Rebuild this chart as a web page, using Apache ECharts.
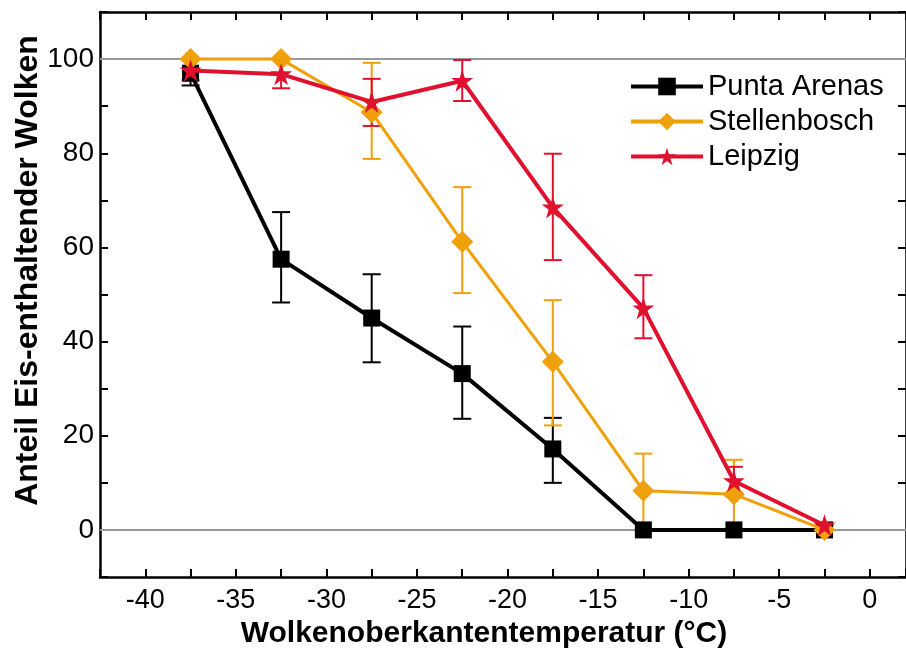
<!DOCTYPE html>
<html>
<head>
<meta charset="utf-8">
<script src="https://cdn.jsdelivr.net/npm/echarts@6/dist/echarts.min.js"></script>
<style>
  html, body { margin: 0; padding: 0; background: #fff; }
  #chart { width: 906px; height: 650px; }
</style>
</head>
<body>
<div id="chart"></div>
<script type="text/javascript">
	// Temperaturklassen (Mitte der 5-K-Intervalle)
	var temps = [-37.5, -32.5, -27.5, -22.5, -17.5, -12.5, -7.5, -2.5];

	var puntaVals = [97, 57.5, 45, 33.2, 17.2, 0, 0, 0];
	var puntaLow  = [94.4, 48.3, 35.6, 23.6, 10, 0, 0, 0];
	var puntaHigh = [99.8, 67.5, 54.3, 43.2, 23.8, 0, 0, 0];

	var stellVals = [100, 100, 88.7, 61.2, 35.7, 8.3, 7.6, 0];
	var stellLow  = [100, 100, 78.8, 50.3, 22.2, 0, 0, 0];
	var stellHigh = [100, 100, 99.2, 72.8, 48.8, 16.2, 14.9, 0];

	var leipVals = [97.6, 96.8, 90.9, 95.4, 68.5, 47.1, 10.4, 1];
	var leipLow  = [95.5, 93.8, 85.8, 91.1, 57.3, 40.7, 7.2, 1];
	var leipHigh = [99.8, 100, 95.8, 99.8, 79.9, 54.1, 13.4, 1];

	var names = ['Punta Arenas', 'Stellenbosch', 'Leipzig'];
	var colors = ['#000000', '#EFA00B', '#E0102F'];

	function pairs(vals) {
		return temps.map(function (t, i) { return [t, vals[i]]; });
	}
	function errData(low, high) {
		return temps.map(function (t, i) { return [t, low[i], high[i]]; });
	}

	// Fehlerbalken als custom series
	function errSeries(low, high, color, width) {
		return {
			type: 'custom',
			silent: true,
			z: 1,
			data: errData(low, high),
			renderItem: function (params, api) {
				var x = api.value(0);
				var p1 = api.coord([x, api.value(1)]);
				var p2 = api.coord([x, api.value(2)]);
				var half = 9;
				var st = { stroke: color, lineWidth: width };
				return {
					type: 'group',
					children: [
						{ type: 'line', shape: { x1: p1[0], y1: p1[1], x2: p2[0], y2: p2[1] }, style: st },
						{ type: 'line', shape: { x1: p1[0] - half, y1: p1[1], x2: p1[0] + half, y2: p1[1] }, style: st },
						{ type: 'line', shape: { x1: p2[0] - half, y1: p2[1], x2: p2[0] + half, y2: p2[1] }, style: st }
					]
				};
			}
		};
	}

	var myChart = echarts.init(document.getElementById('chart'));
	var axisLine = { show: true, onZero: false, lineStyle: { color: '#000', width: 2.5 } };
	var tick = { show: true, inside: true, length: 8, lineStyle: { color: '#000', width: 2 } };

	var option = {
		animation: false,
		backgroundColor: '#fff',
		textStyle: { fontFamily: 'Liberation Sans, Arial, sans-serif' },
		grid: { left: 100, right: 0, top: 12, bottom: 73, outerBoundsMode: 'none', containLabel: false },
		legend: {
			orient: 'vertical',
			left: 624,
			top: 67,
			itemWidth: 72,
			itemHeight: 22,
			itemGap: 6,
			data: names,
			lineStyle: { width: 4 },
			textStyle: { fontSize: 29, color: '#000', fontFamily: 'Liberation Sans, Arial, sans-serif' }
		},
		xAxis: [{
			type: 'value',
			min: -42.5,
			max: 2,
			interval: 2.5,
			name: 'Wolkenoberkantentemperatur (°C)',
			nameLocation: 'middle',
			nameGap: 42,
			nameTextStyle: { fontSize: 30, fontWeight: 'bold', color: '#000', padding: [0, 38, 0, 0] },
			axisLine: axisLine,
			axisTick: tick,
			splitLine: { show: false },
			axisLabel: {
				fontSize: 27,
				color: '#000',
				margin: 10,
				formatter: function (v) { return v % 5 === 0 ? String(v) : ''; }
			}
		}, {
			type: 'value',
			position: 'top',
			min: -42.5,
			max: 2,
			interval: 2.5,
			axisLine: axisLine,
			axisTick: tick,
			axisLabel: { show: false },
			splitLine: { show: false }
		}],
		yAxis: [{
			type: 'value',
			min: -10,
			max: 110,
			interval: 10,
			name: 'Anteil Eis-enthaltender Wolken',
			nameLocation: 'middle',
			nameGap: 56,
			nameMoveOverlap: false,
			nameTextStyle: { fontSize: 32, fontWeight: 'bold', color: '#000', padding: [0, 0, 0, 48] },
			axisLine: axisLine,
			axisTick: tick,
			splitLine: { show: false },
			axisLabel: {
				fontSize: 28,
				color: '#000',
				margin: 6,
				formatter: function (v) { return (v % 20 === 0 && v >= 0 && v <= 100) ? String(v) : ''; }
			}
		}, {
			type: 'value',
			position: 'right',
			min: -10,
			max: 110,
			interval: 10,
			axisLine: axisLine,
			axisTick: tick,
			axisLabel: { show: false },
			splitLine: { show: false }
		}],
		series: [
			{
				name: names[0],
				type: 'line',
				data: pairs(puntaVals),
				z: 3,
				symbol: 'rect',
				symbolSize: 17,
				itemStyle: { color: colors[0] },
				lineStyle: { color: colors[0], width: 4 },
				markLine: {
					silent: true,
					symbol: 'none',
					label: { show: false },
					lineStyle: { color: '#999', width: 2, type: 'solid' },
					data: [{ yAxis: 0 }, { yAxis: 100 }],
					z: 1
				}
			},
			{
				name: names[1],
				type: 'line',
				data: pairs(stellVals),
				z: 4,
				symbol: 'diamond',
				symbolSize: 22,
				itemStyle: { color: colors[1] },
				lineStyle: { color: colors[1], width: 3 }
			},
			{
				name: names[2],
				type: 'line',
				data: pairs(leipVals),
				z: 5,
				symbol: 'path://M50,0 L61.8,35.5 L100,35.5 L69.1,57.6 L80.9,95 L50,72.4 L19.1,95 L30.9,57.6 L0,35.5 L38.2,35.5 Z',
				symbolSize: 22,
				itemStyle: { color: colors[2] },
				lineStyle: { color: colors[2], width: 4 }
			},
			errSeries(puntaLow, puntaHigh, colors[0], 2),
			errSeries(stellLow, stellHigh, colors[1], 2),
			errSeries(leipLow, leipHigh, colors[2], 2)
		]
	};

	myChart.setOption(option);
</script>
</body>
</html>
